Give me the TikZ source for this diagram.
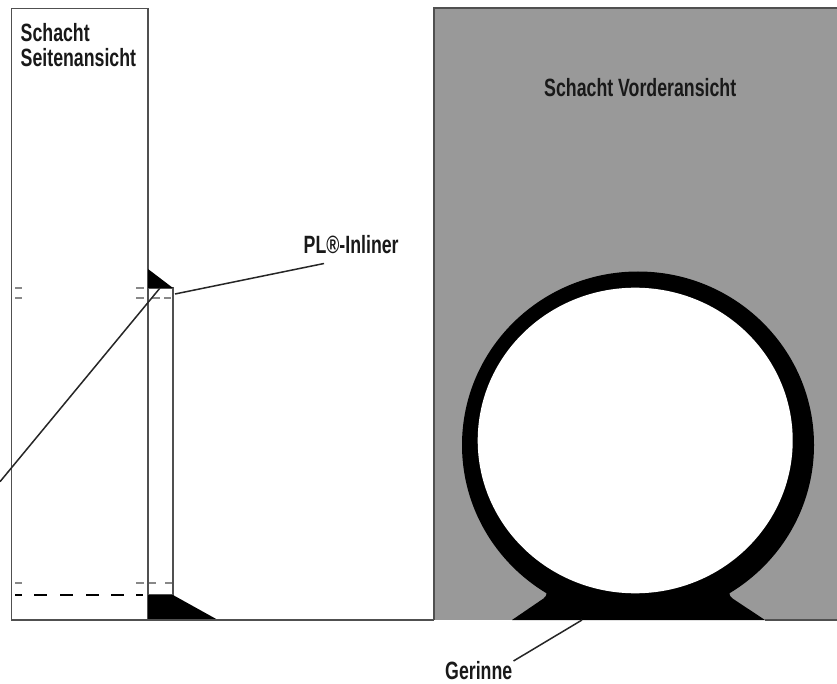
\documentclass[tikz,border=0pt]{standalone}
\usepackage{fontspec}
\newfontfamily\labfont[FakeStretch=0.71]{Liberation Sans Bold}
\definecolor{fillgray}{HTML}{999999}
\definecolor{linegray}{HTML}{505050}
\definecolor{dashgray}{HTML}{888888}
\tikzset{
  lab/.style={font=\labfont\fontsize{25}{25}\selectfont,text=black!90,inner sep=0pt,anchor=base west},
  wall/.style={draw=linegray,line width=1.9pt},
  leader/.style={draw=black!85,line width=1.5pt},
  grayDash/.style={draw=dashgray,line width=1.9pt},
}
\begin{document}
\begin{tikzpicture}[x=1pt,y=-1pt]
\useasboundingbox (0,0) rectangle (837,684);
\fill[white] (0,0) rectangle (837,684);
% front view
\fill[fillgray] (434,8) rectangle (837,620);
\draw[wall] (434,620) -- (434,8) -- (837,8);
% ring with channel
\fill[black] (638,445) ellipse [x radius=176, y radius=173.5];
\fill[black] (512,620) -- (543.5,598.5) .. controls (547.5,595.5) and (547.5,592) .. (544,588) -- (732,588) .. controls (728.5,592) and (728.5,595.5) .. (732.5,598.5) -- (765,620) -- cycle;
\fill[white] (635.2,440.5) ellipse [x radius=157.5, y radius=152.8];
% side view
\draw[wall] (148,620) -- (11.5,620) -- (11.5,8.5) -- (148,8.5) -- (148,620);
\draw[wall] (148,288) -- (173,288) -- (173,595) -- (148,595);
\fill[black] (148,269) -- (173,288) -- (148,288) -- cycle;
\fill[black] (148,595) -- (173,595) -- (218,620) -- (148,620) -- cycle;
\draw[wall] (148,620) -- (434,620);
\draw[wall] (765,620) -- (837,620);
% dashes
\foreach \y in {288,298} {
  \draw[grayDash] (15,\y) -- (22,\y);
  \draw[grayDash] (136,\y) -- (144,\y);
}
\draw[grayDash] (152,298) -- (160,298);
\draw[grayDash] (164,298) -- (171,298);
\draw[grayDash] (15,583) -- (22,583);
\draw[grayDash] (136,583) -- (144,583);
\draw[grayDash] (149,583) -- (156,583);
\draw[grayDash] (165,583) -- (172,583);
\draw[draw=black,line width=1.4pt] (15,595) -- (22,595) (34,595) -- (47,595) (60,595) -- (73,595) (86,595) -- (99,595) (111,595) -- (124,595) (136,595) -- (143,595);
% labels
\node[lab] (sideA) at (20.5,42) {Schacht};
\node[lab] (sideB) at (20.5,67) {Seitenansicht};
\node[lab] (front) at (544,97) {Schacht Vorderansicht};
\node[lab] (inl) at (303.5,254) {PL®-Inliner};
\node[lab] (ger) at (445,679) {Gerinne};
% leaders
\coordinate (leadA) at (160,288);
\coordinate (leadB) at (0,481.7);
\coordinate (leadC) at (175,294);
\coordinate (leadD) at (582,620);
\coordinate (leadE) at (324,263.5);
\coordinate (leadF) at (513.5,661);
\draw[leader] (leadE) -- (leadC);
\draw[leader] (leadA) -- (leadB);
\draw[leader] (leadF) -- (leadD);
\end{tikzpicture}
\end{document}
